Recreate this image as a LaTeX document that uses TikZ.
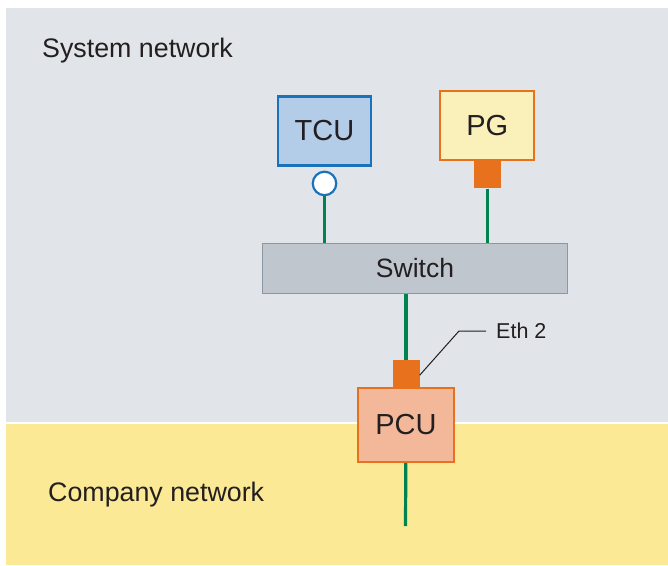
\documentclass[tikz,border=0pt]{standalone}
\usepackage{fontspec}
\setmainfont{Liberation Sans}
\usepackage{xcolor}
\usepackage{tikz}
\usetikzlibrary{positioning}

\definecolor{sysgray}{HTML}{E1E4E9}
\definecolor{compyellow}{HTML}{FBE995}
\definecolor{tcublue}{HTML}{B3CDE8}
\definecolor{tcuedge}{HTML}{1A73BA}
\definecolor{pgyellow}{HTML}{FAF0BA}
\definecolor{siemorange}{HTML}{E8711E}
\definecolor{pcusalmon}{HTML}{F3B89A}
\definecolor{switchgray}{HTML}{BFC6CE}
\definecolor{switchedge}{HTML}{8E979F}
\definecolor{linkgreen}{HTML}{00834E}
\definecolor{textdark}{HTML}{231F20}

\begin{document}
\begin{tikzpicture}[
    x=1pt, y=-1pt,
    text=textdark,
    base/.style={
        rectangle,
        draw,
        line width=2.2pt,
        align=center,
        inner sep=0pt,
        font=\fontsize{29}{33}\selectfont
    },
    tcubox/.style={
        base,
        draw=tcuedge,
        fill=tcublue,
        minimum width=93pt,
        minimum height=69pt
    },
    pgbox/.style={
        base,
        draw=siemorange,
        fill=pgyellow,
        minimum width=94pt,
        minimum height=69pt
    },
    pcubox/.style={
        base,
        draw=siemorange,
        fill=pcusalmon,
        minimum width=96pt,
        minimum height=74pt
    },
    switchbox/.style={
        base,
        line width=1.5pt,
        draw=switchedge,
        fill=switchgray,
        minimum width=305pt,
        minimum height=50pt,
        font=\fontsize{26.5}{31}\selectfont
    },
    portsq/.style={
        rectangle,
        fill=siemorange,
        inner sep=0pt,
        minimum width=27pt,
        minimum height=27pt
    },
    portcirc/.style={
        circle,
        draw=tcuedge,
        fill=white,
        line width=2.2pt,
        inner sep=0pt,
        minimum size=23.5pt
    },
    link/.style={
        line width=3.2pt,
        draw=linkgreen
    },
    leader/.style={
        line width=1pt,
        draw=textdark
    },
    netlabel/.style={
        anchor=base west,
        inner sep=0pt,
        font=\fontsize{26.8}{31}\selectfont
    }
]

\useasboundingbox (0,0) rectangle (668,565);

% --- Network zones -----------------------------------------------------------

\fill[sysgray] (6,8) rectangle (668,423);
\fill[compyellow] (6,423) rectangle (668,565);
\draw[white, line width=1.2pt] (6,423) -- (668,423);

\node[netlabel] (sysnet) at (42,57) {System network};
\node[netlabel] (compnet) at (48,501) {Company network};

% --- Devices -----------------------------------------------------------------

\node[tcubox] (tcu) at (324.5,131) {TCU};
\node[portcirc, below=4pt of tcu] (tcuport) {};

\node[pgbox] (pg) at (487.3,125.5) {PG};
\node[portsq, below=0pt of pg] (pgport) {};

\node[switchbox] (switch) at (415,268.5) {Switch};

\node[pcubox] (pcu) at (406,425) {PCU};
\node[portsq, above=0pt of pcu] (pcuport) {};

\coordinate (pcuend) at (405.5,526);

% --- Links -------------------------------------------------------------------

\draw[link] (tcuport) -- (tcuport |- switch.north);
\draw[link] (pgport) -- (pgport |- switch.north);
\draw[link] (pcuport |- switch.south) -- (pcuport);
\draw[link] (pcu) -- (pcuend);

% --- Port label --------------------------------------------------------------

\node[anchor=west, inner xsep=10pt, inner ysep=0pt,
      font=\fontsize{21.5}{25}\selectfont] (eth) at (486,331) {Eth 2};
\draw[leader] ([yshift=-2pt]pcuport.east) -- (459,331) -- (eth.west);

\end{tikzpicture}
\end{document}
